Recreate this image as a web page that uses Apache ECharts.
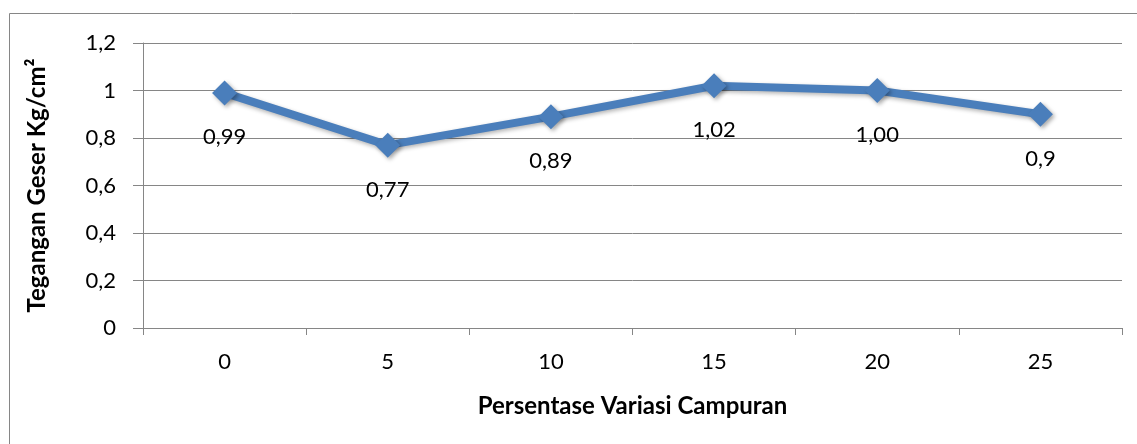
<!DOCTYPE html>
<html>
<head>
<meta charset="utf-8">
<script src="https://cdn.jsdelivr.net/npm/echarts@6/dist/echarts.min.js"></script>
<style>
  html, body { margin: 0; padding: 0; background: #fff; }
  #chart { width: 1137px; height: 444px; }
</style>
</head>
<body>
<div id="chart"></div>
<script>
// data
var categories = ['0', '5', '10', '15', '20', '25'];
var values = [0.99, 0.77, 0.89, 1.02, 1.00, 0.90];
var pointLabels = ['0,99', '0,77', '0,89', '1,02', '1,00', '0,9'];
var yTickLabels = ['0', '0,2', '0,4', '0,6', '0,8', '1', '1,2'];

var myChart = echarts.init(document.getElementById('chart'));
var font = 'Lato, "Noto Sans", sans-serif';

var option = {
    animation: false,
    textStyle: { fontFamily: font },
    // outer chart border
    graphic: [{
        type: 'rect',
        shape: { x: 9.5, y: 13.5, width: 1140, height: 440 },
        style: { fill: 'none', stroke: '#868686', lineWidth: 1 },
        silent: true
    }],
    grid: {
        left: 143,
        right: 15,
        top: 43,
        bottom: 116
    },
    xAxis: {
        type: 'category',
        data: categories,
        boundaryGap: true,
        name: 'Persentase Variasi Campuran',
        nameLocation: 'middle',
        nameGap: 66,
        nameTextStyle: { fontSize: 24, fontWeight: 'bold', color: '#000', fontFamily: font },
        axisLine: { lineStyle: { color: '#868686', width: 1 } },
        axisTick: { show: true, interval: 0, length: 7, lineStyle: { color: '#868686' } },
        axisLabel: { fontSize: 22, color: '#000', margin: 23, fontFamily: font },
        splitLine: { show: false }
    },
    yAxis: {
        type: 'value',
        min: 0,
        max: 1.2,
        interval: 0.2,
        name: 'Tegangan Geser Kg/cm²',
        nameLocation: 'middle',
        nameGap: 94,
        nameRotate: 90,
        nameTextStyle: { fontSize: 24, fontWeight: 'bold', color: '#000', fontFamily: font },
        axisLine: { show: true, lineStyle: { color: '#868686', width: 1 } },
        axisTick: { show: true, length: 10, lineStyle: { color: '#868686' } },
        axisLabel: {
            fontSize: 22,
            color: '#000',
            margin: 27,
            fontFamily: font,
            formatter: function (v) {
                return yTickLabels[Math.round(v / 0.2)];
            }
        },
        splitLine: { show: true, lineStyle: { color: '#868686', width: 1 } }
    },
    series: [{
        type: 'line',
        data: values,
        symbol: 'diamond',
        symbolSize: 25,
        itemStyle: {
            color: '#4a7ebb',
            shadowColor: 'rgba(0,0,0,0.35)',
            shadowBlur: 4,
            shadowOffsetX: 2,
            shadowOffsetY: 2
        },
        lineStyle: {
            color: '#4a7ebb',
            width: 8,
            shadowColor: 'rgba(0,0,0,0.3)',
            shadowBlur: 4,
            shadowOffsetX: 1,
            shadowOffsetY: 2
        },
        label: {
            show: true,
            position: 'bottom',
            distance: 21,
            fontSize: 22,
            color: '#000',
            fontFamily: font,
            formatter: function (p) { return pointLabels[p.dataIndex]; }
        }
    }]
};

myChart.setOption(option);
</script>
</body>
</html>
